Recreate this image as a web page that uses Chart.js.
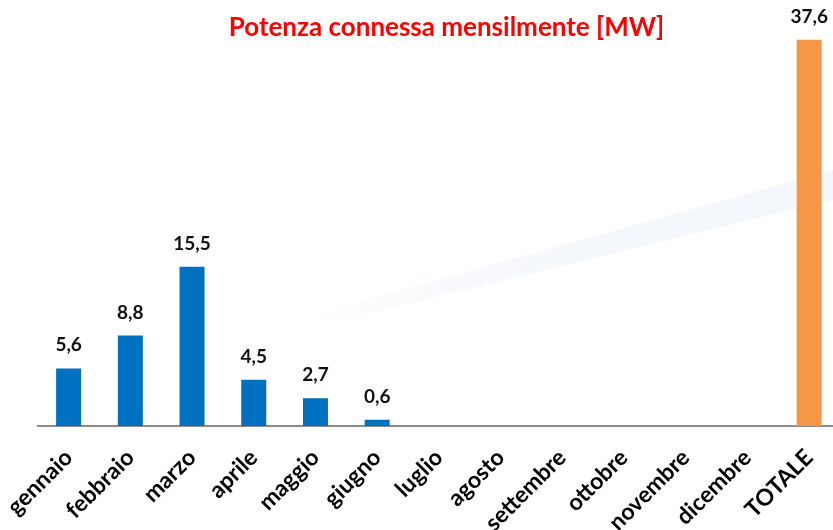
<!DOCTYPE html>
<html>
<head>
<meta charset="utf-8">
<script src="https://cdn.jsdelivr.net/npm/chart.js@4.4.0/dist/chart.umd.min.js"></script>
<style>
  html, body { margin:0; padding:0; background:#fff; overflow:hidden; }
  #wrap { position:relative; width:840px; height:530px; }
  #title { position:absolute; left:0; width:893px; top:10px; text-align:center;
           font:bold 26px Lato, sans-serif; color:#ff0000; }
</style>
</head>
<body>
<div id="wrap">
  <canvas id="chart" width="840" height="530"></canvas>
  <div id="title">Potenza connessa mensilmente [MW]</div>
</div>
<script>
const months = ["gennaio","febbraio","marzo","aprile","maggio","giugno","luglio",
                "agosto","settembre","ottobre","novembre","dicembre","TOTALE"];
const power = [5.6, 8.8, 15.5, 4.5, 2.7, 0.6, null, null, null, null, null, null, 37.6];
const barColors = months.map(m => m === "TOTALE" ? "#f79646" : "#0070c0");

function fmt(v){ return v.toFixed(1).replace(".", ","); }

// faint logo swoosh in the background
const watermark = {
    id: "watermark",
    beforeDatasetsDraw(chart){
        const ctx = chart.ctx;
        ctx.save();
        const g = ctx.createLinearGradient(300, 0, 840, 0);
        g.addColorStop(0, "rgba(228,235,245,0)");
        g.addColorStop(0.3, "rgba(228,235,245,0.3)");
        g.addColorStop(1, "rgba(228,235,245,0.45)");
        ctx.fillStyle = g;
        ctx.beginPath();
        ctx.moveTo(300, 318);
        ctx.lineTo(840, 168);
        ctx.lineTo(840, 198);
        ctx.lineTo(300, 330);
        ctx.closePath();
        ctx.fill();
        ctx.restore();
    }
};

const valueLabels = {
    id: "valueLabels",
    afterDatasetsDraw(chart){
        const ctx = chart.ctx;
        const meta = chart.getDatasetMeta(0);
        ctx.save();
        ctx.font = "bold 19px Lato, sans-serif";
        ctx.fillStyle = "#111";
        ctx.textAlign = "center";
        ctx.textBaseline = "alphabetic";
        meta.data.forEach((bar, i) => {
            const v = power[i];
            if(v === null) return;
            ctx.fillText(fmt(v), bar.x, bar.y - 17);
        });
        ctx.restore();
    }
};

new Chart(document.getElementById("chart"), {
    type: "bar",
    data: {
        labels: months,
        datasets: [{
            data: power,
            backgroundColor: barColors,
            categoryPercentage: 1,
            barPercentage: 0.405
        }]
    },
    options: {
        responsive: false,
        animation: false,
        layout: { padding: { left: 37, top: 10, right: 0, bottom: 0 } },
        plugins: { legend: { display:false }, tooltip: { enabled:false } },
        scales: {
            x: {
                grid: { display:false },
                border: { display:true, color:"#8c8c8c", width:2 },
                ticks: {
                    color:"#000",
                    font: { family:"Lato, sans-serif", size:23, weight:"bold" },
                    minRotation:45, maxRotation:45, padding:10, autoSkip:false
                },
                afterFit(scale){ scale.height = 104; }
            },
            y: { display:false, min:0, max:40.5 }
        }
    },
    plugins: [watermark, valueLabels]
});
</script>
</body>
</html>
